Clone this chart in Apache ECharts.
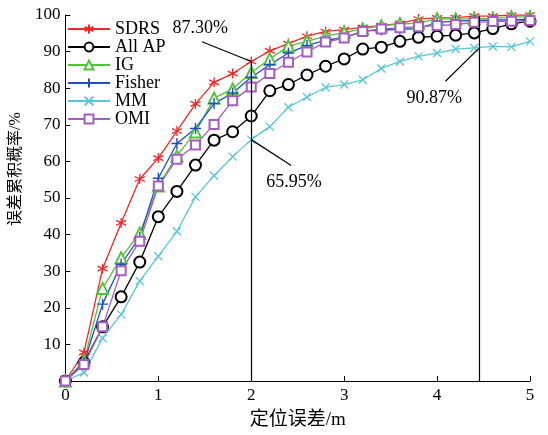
<!DOCTYPE html>
<html>
<head>
<meta charset="utf-8">
<script src="https://cdn.jsdelivr.net/npm/echarts@6/dist/echarts.min.js"></script>
<style>html,body{margin:0;padding:0;background:#fff}#c{width:548px;height:435px}</style>
</head>
<body>
<div id="c"></div>
<script>
const xs = [0,0.2,0.4,0.6,0.8,1.0,1.2,1.4,1.6,1.8,2.0,2.2,2.4,2.6,2.8,3.0,3.2,3.4,3.6,3.8,4.0,4.2,4.4,4.6,4.8,5.0];
const seriesNames = ['SDRS','All AP','IG','Fisher','MM','OMI'];
const sdrs   = [0,7.8,30.7,43.2,55.2,60.9,68.3,75.7,81.6,84.0,87.3,90.2,92.2,94.2,95.5,96.0,96.6,97.1,97.7,98.9,99.2,99.3,99.7,99.7,100,100];
const allAP  = [0,5.0,14.8,23.0,32.5,44.9,51.8,59.0,65.8,68.1,72.4,79.3,81.0,83.6,86.0,88.0,90.7,91.2,92.8,93.9,94.2,94.5,95.1,96.3,97.6,98.3];
const ig     = [0,5.5,25.3,33.7,40.4,53.3,61.5,68.0,77.3,79.8,84.3,88.0,91.5,92.8,94.2,95.2,96.2,97.0,97.6,97.7,99.0,98.9,99.0,99.0,99.5,99.5];
const fisher = [0,5.0,21.0,31.9,39.3,55.4,64.9,69.0,75.8,78.7,83.0,86.4,89.6,91.7,93.1,93.8,95.6,95.9,96.1,96.3,98.0,98.3,98.5,98.6,98.7,98.8];
const mm     = [0,2.3,11.7,18.2,27.3,34.1,40.9,50.3,56.1,61.3,65.95,69.5,74.8,77.6,80.2,81.0,82.3,85.4,87.3,88.7,89.6,90.7,91.0,91.4,91.3,92.8];
const omi    = [0,4.5,14.8,30.1,38.2,53.3,60.6,64.5,70.1,76.6,80.3,84.0,87.1,89.9,92.6,93.7,95.5,96.2,96.5,96.8,97.1,97.4,98.0,98.2,98.3,98.5];
const xTicks = [0,1,2,3,4,5];
const yTicks = [0,10,20,30,40,50,60,70,80,90,100];
// reference lines: [x, yTop]
const vLines = [[2, 87.3],[4.45, 99.8]];
// annotations: text, pointed data point, pointer end, text centre
const notes = [
  {text:'87.30%', at:[2,87.3],   end:[1.47,92.7], label:[1.452,96.3]},
  {text:'65.95%', at:[2,65.95],  end:[2.43,58.9], label:[2.46,54.4]},
  {text:'90.87%', at:[4.45,90.87],end:[4.09,81.9], label:[3.97,77.2]}
];

const serif = '"Liberation Serif","Times New Roman","Noto Sans CJK SC",serif';
const pair = arr => xs.map((x,i)=>[x,arr[i]]);

const styles = {
  'SDRS':  {color:'#f0282a', symbol:'path://M5,0L5,10M0.67,2.5L9.33,7.5M0.67,7.5L9.33,2.5', size:10, lw:1.3, bw:1.3},
  'All AP':{color:'#000000', symbol:'emptyCircle', size:11, lw:1.3, bw:2.6},
  'IG':    {color:'#55c23c', symbol:'emptyTriangle', size:11, lw:1.3, bw:1.3},
  'Fisher':{color:'#1d4fbd', symbol:'path://M5,0L5,10M0,5L10,5', size:11, lw:1.3, bw:1.4},
  'MM':    {color:'#58c6d6', symbol:'path://M0,0L10,10M0,10L10,0', size:8, lw:1.3, bw:1.3},
  'OMI':   {color:'#a45cc0', symbol:'emptyRect', size:9, lw:1.3, bw:1.3}
};
const dataMap = {'SDRS':sdrs,'All AP':allAP,'IG':ig,'Fisher':fisher,'MM':mm,'OMI':omi};

const series = seriesNames.map(n=>{
  const s = styles[n];
  return {
    name:n, type:'line', data:pair(dataMap[n]),
    symbol:s.symbol, symbolSize:s.size, showAllSymbol:true,
    lineStyle:{color:s.color, width:s.lw},
    itemStyle:{color:s.color, borderColor:s.color, borderWidth:s.bw},
    emphasis:{disabled:true}, animation:false, z:3
  };
});

const lineSty = {color:'#000', width:1.2, type:'solid'};
series.push({
  name:'ann', type:'line', data:[], silent:true, animation:false, z:2,
  markLine:{
    symbol:['none','none'], silent:true, animation:false,
    label:{show:false}, lineStyle:lineSty, emphasis:{disabled:true},
    data: vLines.map(v=>[{coord:[v[0],0]},{coord:[v[0],v[1]]}])
      .concat(notes.map(a=>[{coord:a.at},{coord:a.end}]))
  },
  markPoint:{
    symbol:'circle', symbolSize:0, silent:true, animation:false,
    label:{show:true, position:'inside', color:'#000', fontSize:18, fontFamily:serif},
    data: notes.map(a=>({coord:a.label, value:a.text, label:{formatter:a.text}}))
  }
});

const chart = echarts.init(document.getElementById('c'), null, {renderer:'canvas'});
chart.setOption({
  backgroundColor:'#fff',
  animation:false,
  grid:{left:59, right:18, top:15, bottom:51, containLabel:false},
  legend:{
    data:seriesNames, orient:'vertical', left:67, top:20, padding:0,
    itemWidth:42, itemHeight:11, itemGap:0,
    textStyle:{fontSize:18, fontFamily:serif, color:'#000', lineHeight:18}
  },
  xAxis:{
    type:'value', min:xTicks[0], max:xTicks[xTicks.length-1], interval:1,
    name:'定位误差/m', nameLocation:'middle', nameGap:30,
    nameTextStyle:{fontSize:19, fontFamily:serif, color:'#000'},
    axisLine:{lineStyle:{color:'#000', width:1}},
    axisTick:{inside:true, length:5, lineStyle:{color:'#000'}},
    axisLabel:{fontSize:17, fontFamily:serif, color:'#000', margin:6},
    splitLine:{show:false}
  },
  yAxis:{
    type:'value', min:yTicks[0], max:yTicks[yTicks.length-1], interval:10,
    name:'误差累积概率/%', nameLocation:'middle', nameGap:38,
    nameTextStyle:{fontSize:16, fontFamily:serif, color:'#000', padding:[0,0,0,58]},
    axisLine:{show:true, lineStyle:{color:'#000', width:1}},
    axisTick:{show:true, inside:true, length:5, lineStyle:{color:'#000'}},
    axisLabel:{fontSize:17, fontFamily:serif, color:'#000', margin:5,
      formatter:v=> v===0 ? '' : String(v)},
    splitLine:{show:false}
  },
  series:series
});
</script>
</body>
</html>
